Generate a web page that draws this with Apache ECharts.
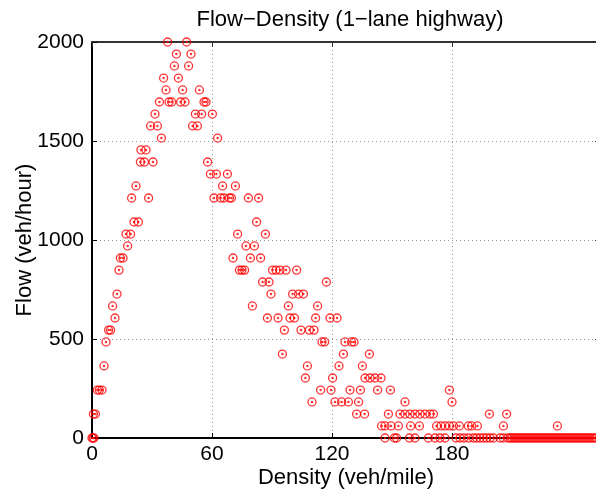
<!DOCTYPE html>
<html>
<head>
<meta charset="utf-8">
<script src="https://cdn.jsdelivr.net/npm/echarts@6/dist/echarts.min.js"></script>
<style>
  html, body { margin: 0; padding: 0; background: #fff; }
  #chart { width: 596px; height: 491px; }
</style>
</head>
<body>
<div id="chart"></div>
<script>
  // density (veh/mile) and flow (veh/hour), paired by index
  const density = [
    0, 0.5, 1, 0.7, 1.7, 2.7, 3.7, 5, 6, 7, 8.3, 9.3, 11.5, 10.3, 12.5, 13.5, 14.2, 15.5, 17.8, 17, 19.3,
    21, 23.2, 82.3,
    19.8, 28.3, 61, 64.3, 66, 68.7, 69.7, 78.2, 83.3,
    22, 65.3, 71.7,
    59.2, 62.2, 67.7,
    24.2, 26.2, 30.5, 57.8,
    24.5, 27,
    34.7, 62.8,
    29.3, 32.7, 50.3, 52.7,
    31.5, 51.7, 54.8, 60.2,
    33.7, 38.5, 39.8, 44.3, 46.5, 56, 57,
    37, 45.3, 53.7,
    35.8, 43.2,
    41.2, 48.3,
    42.2, 49.5,
    37.8, 47.3,
    72.8, 86.7,
    77, 81.2,
    70.5, 79.2, 84.3,
    73.7, 75, 76.3, 90.3, 92, 94, 97, 102.3,
    85.3, 88.5, 117.2,
    89.5, 100.3, 103.3, 105.7,
    80.2, 98.2, 112.8,
    87.7, 93, 99, 101.2, 111.8, 119, 122.5,
    96.2, 104.5, 108.7, 111,
    115, 116.3, 126.5, 129.8, 131,
    95.2, 125.7, 138.7,
    107.7, 123.5, 135.2,
    106.7, 120.3, 136.5, 139, 141.5, 144.5,
    114.3, 119.5, 129, 134.2, 142.8, 149.2, 178.7,
    110, 121.5, 124.8, 128.2, 133.3, 156.5, 180,
    132.3, 136.3, 148.2, 154, 156.5, 159, 161.5, 164, 166.5, 169, 170.7, 198.7, 207.3,
    144.8, 146.5, 149.5, 153.2, 159.3, 163.7, 172.3, 174.5, 176.5, 178.7, 180.7, 183.7, 188.2, 189.8, 192.7, 205.7, 232.7,
    146.5, 151.2, 152.3, 158.7, 161.5, 168.2, 171.5, 174, 176.5, 182, 184, 186, 188.2, 190.7, 192.3, 194, 195.7, 197.3, 199, 200.7, 204, 205.7,
    208, 209, 210, 211, 212, 213, 214, 215, 216, 217, 218, 219, 220, 221, 222, 223, 224, 225, 226, 227, 228, 229, 230,
    231, 232, 233, 234, 235, 236, 237, 238, 239, 240, 241, 242, 243, 244, 245, 246, 247, 248, 249, 250, 251, 252
  ]
  const flow = [
    0, 0, 0, 121, 121, 242, 242, 242, 364, 485, 545, 545, 606, 667, 727, 848, 909, 909, 970, 1030, 1030,
    1091, 1091, 1091,
    1212, 1212, 1212, 1212, 1212, 1212, 1212, 1212, 1212,
    1273, 1273, 1273,
    1333, 1333, 1333,
    1394, 1394, 1394, 1394,
    1455, 1455,
    1515, 1515,
    1576, 1576, 1576, 1576,
    1636, 1636, 1636, 1636,
    1697, 1697, 1697, 1697, 1697, 1697, 1697,
    1758, 1758, 1758,
    1818, 1818,
    1879, 1879,
    1939, 1939,
    2000, 2000,
    1030, 1030,
    970, 970,
    909, 909, 909,
    848, 848, 848, 848, 848, 848, 848, 848,
    788, 788, 788,
    727, 727, 727, 727,
    667, 667, 667,
    606, 606, 606, 606, 606, 606, 606,
    545, 545, 545, 545,
    485, 485, 485, 485, 485,
    424, 424, 424,
    364, 364, 364,
    303, 303, 303, 303, 303, 303,
    242, 242, 242, 242, 242, 242, 242,
    182, 182, 182, 182, 182, 182, 182,
    121, 121, 121, 121, 121, 121, 121, 121, 121, 121, 121, 121, 121,
    61, 61, 61, 61, 61, 61, 61, 61, 61, 61, 61, 61, 61, 61, 61, 61, 61,
    0, 0, 0, 0, 0, 0, 0, 0, 0, 0, 0, 0, 0, 0, 0, 0, 0, 0, 0, 0, 0, 0,
    0, 0, 0, 0, 0, 0, 0, 0, 0, 0, 0, 0, 0, 0, 0, 0, 0, 0, 0, 0, 0, 0, 0,
    0, 0, 0, 0, 0, 0, 0, 0, 0, 0, 0, 0, 0, 0, 0, 0, 0, 0, 0, 0, 0, 0
  ]
  const xTicks = [0, 60, 120, 180]

  const points = density.map((d, i) => [d, flow[i]])
  const font = 'Liberation Sans'

  let chart = echarts.init(document.getElementById('chart'))
  chart.setOption({
    animation: false,
    textStyle: { fontFamily: font },
    title: {
      text: 'Flow\u2212Density (1\u2212lane highway)',
      left: 345,
      top: 4,
      textAlign: 'center',
      textStyle: { fontFamily: font, fontSize: 22, fontWeight: 'normal', color: '#000' }
    },
    grid: { left: 92, right: -4, top: 42, bottom: 53, containLabel: false, outerBoundsMode: 'none' },
    xAxis: [
      {
        type: 'value', min: 0, max: 254, position: 'bottom',
        name: 'Density (veh/mile)', nameLocation: 'middle', nameGap: 29, nameMoveOverlap: false,
        nameTextStyle: { fontFamily: font, fontSize: 22, color: '#000' },
        axisLine: { show: true, onZero: false, lineStyle: { color: '#000', width: 2 } },
        axisTick: { show: true, inside: true, length: 5, customValues: xTicks, lineStyle: { color: '#000' } },
        axisLabel: { customValues: xTicks, fontSize: 21, color: '#000', margin: 6 },
        splitLine: { show: true, lineStyle: { color: '#999', type: [1, 3], width: 1 } }
      },
      {
        type: 'value', min: 0, max: 254, position: 'top',
        axisLine: { show: true, onZero: false, lineStyle: { color: '#333', width: 2 } },
        axisTick: { show: true, inside: true, length: 5, customValues: xTicks, lineStyle: { color: '#333' } },
        axisLabel: { show: false },
        splitLine: { show: false }
      }
    ],
    yAxis: [
      {
        type: 'value', min: 0, max: 2000, interval: 500, position: 'left',
        name: 'Flow (veh/hour)', nameLocation: 'middle', nameGap: 56, nameMoveOverlap: false,
        nameTextStyle: { fontFamily: font, fontSize: 22, color: '#000' },
        axisLine: { show: true, onZero: false, lineStyle: { color: '#000', width: 2 } },
        axisTick: { show: true, inside: true, length: 5, lineStyle: { color: '#000' } },
        axisLabel: { fontSize: 21, color: '#000', margin: 8, formatter: v => String(v) },
        splitLine: { show: true, lineStyle: { color: '#999', type: [1, 3], width: 1 } }
      },
      {
        type: 'value', min: 0, max: 2000, interval: 500, position: 'right',
        axisLine: { show: true, onZero: false, lineStyle: { color: '#333', width: 2 } },
        axisTick: { show: true, inside: true, length: 5, lineStyle: { color: '#333' } },
        axisLabel: { show: false },
        splitLine: { show: false }
      }
    ],
    series: [
      {
        name: 'ring',
        type: 'scatter',
        data: points,
        symbol: 'circle',
        symbolSize: 8,
        itemStyle: { color: 'rgba(0,0,0,0)', borderColor: '#ff0000', borderWidth: 1.3 },
        clip: false
      },
      {
        name: 'dot',
        type: 'scatter',
        data: points,
        symbol: 'circle',
        symbolSize: 2.5,
        itemStyle: { color: '#ff0000' },
        clip: false
      }
    ]
  })
</script>
</body>
</html>
